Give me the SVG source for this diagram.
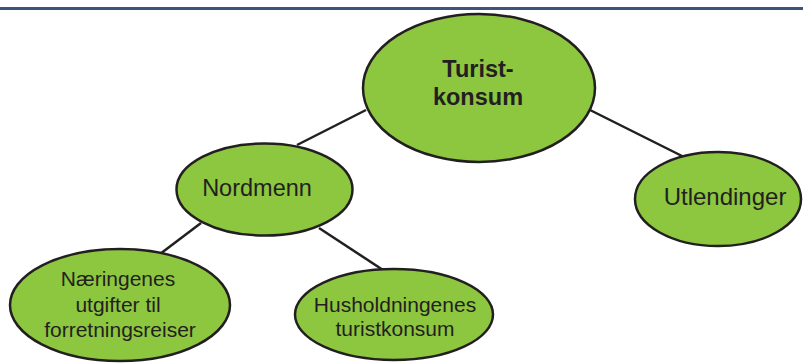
<svg xmlns="http://www.w3.org/2000/svg" width="803" height="363" viewBox="0 0 803 363">
<style>
.n{fill:#8dc63f;stroke:#231f20;stroke-width:2.5}
.t{font-family:"Liberation Sans",Arial,sans-serif;fill:#231f20;text-anchor:middle}
.c{stroke:#231f20;stroke-width:2.5;fill:none}
</style>
<rect x="0" y="0" width="803" height="363" fill="#ffffff"/>
<line x1="0" y1="8.5" x2="803" y2="8.5" stroke="#3f5277" stroke-width="3"/>
<g id="connectors">
<line class="c" x1="297" y1="145" x2="366" y2="110"/>
<line class="c" x1="590" y1="110" x2="684" y2="157"/>
<line class="c" x1="201" y1="223" x2="160" y2="254"/>
<line class="c" x1="319" y1="228" x2="383" y2="270"/>
</g>
<g id="turistkonsum">
<ellipse class="n" cx="479" cy="88" rx="116" ry="74"/>
<text class="t" x="478" y="77" font-size="23.5" font-weight="bold">Turist-</text>
<text class="t" x="478" y="105" font-size="23.5" font-weight="bold">konsum</text>
</g>
<g id="nordmenn">
<ellipse class="n" cx="264.5" cy="189.5" rx="88" ry="46"/>
<text class="t" x="257" y="196" font-size="23.5">Nordmenn</text>
</g>
<g id="utlendinger">
<ellipse class="n" cx="718" cy="199" rx="83" ry="47"/>
<text class="t" x="725" y="205" font-size="24">Utlendinger</text>
</g>
<g id="naeringenes">
<ellipse class="n" cx="120" cy="305" rx="110" ry="56"/>
<text class="t" x="118" y="286" font-size="21">Næringenes</text>
<text class="t" x="118" y="312" font-size="21">utgifter til</text>
<text class="t" x="120" y="337" font-size="21">forretningsreiser</text>
</g>
<g id="husholdningenes">
<ellipse class="n" cx="394" cy="314.5" rx="99" ry="45.5"/>
<text class="t" x="395" y="312" font-size="21">Husholdningenes</text>
<text class="t" x="395" y="336" font-size="21">turistkonsum</text>
</g>
</svg>
